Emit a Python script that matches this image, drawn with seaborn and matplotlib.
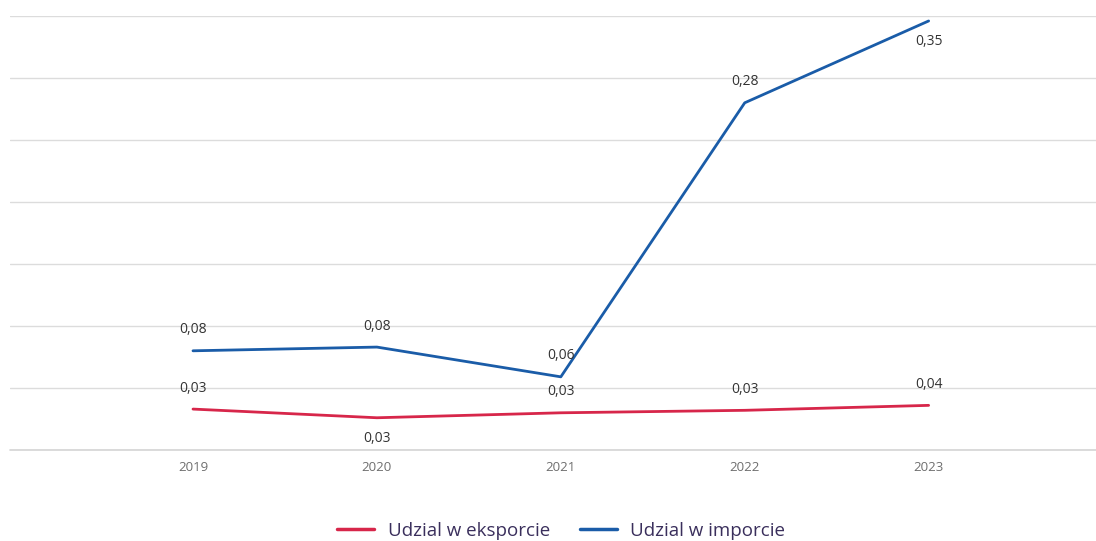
import matplotlib
matplotlib.use("Agg")
import matplotlib.pyplot as plt
import pandas as pd
import seaborn as sns

# -----------------------------
# Data
# -----------------------------
years = ["2019", "2020", "2021", "2022", "2023"]
export_share = [0.033, 0.026, 0.030, 0.032, 0.036]
import_share = [0.080, 0.083, 0.059, 0.280, 0.346]
series_names = ["Udzial w eksporcie", "Udzial w imporcie"]

# -----------------------------
# Style
# -----------------------------
sns.set_theme(style="white")
plt.rcParams["font.family"] = ["Open Sans", "DejaVu Sans"]

colors = {series_names[0]: "#d7264a", series_names[1]: "#1a5ca8"}

df = pd.DataFrame({
    "rok": years * 2,
    "wartosc": export_share + import_share,
    "seria": [series_names[0]] * len(years) + [series_names[1]] * len(years),
})
df["x"] = df["rok"].map({y: i for i, y in enumerate(years)})

fig = plt.figure(figsize=(10.96, 5.41), dpi=100)
ax = fig.add_axes([10 / 1096, 1 - 450 / 541, 1 - 10 / 1096, (450 - 16) / 541])

sns.lineplot(data=df, x="x", y="wartosc", hue="seria", palette=colors,
             linewidth=2.0, ax=ax, legend=False, clip_on=False, zorder=3)

ax.set_xlim(-0.995, 4.91)
ax.set_ylim(0, 0.35)
ax.set_yticks([i * 0.05 for i in range(8)])
ax.yaxis.grid(True, color="#dcdcdc", linewidth=1.0)
ax.axhline(0, color="#d4d4d4", linewidth=1.2, clip_on=False, zorder=1)
ax.set_yticklabels([])
ax.tick_params(axis="y", length=0)
ax.set_xticks(range(len(years)))
ax.set_xticklabels(years, color="#6e6e6e", fontsize=9.5)
ax.tick_params(axis="x", length=0, pad=8)
ax.set_xlabel("")
ax.set_ylabel("")
for side in ["top", "right", "left", "bottom"]:
    ax.spines[side].set_visible(False)

# data labels: +1 = above the point, -1 = below
export_place = [1, -1, 1, 1, 1]
import_place = [1, 1, 1, 1, -1]
for values, places in [(export_share, export_place), (import_share, import_place)]:
    for i, (v, p) in enumerate(zip(values, places)):
        label = f"{v:.2f}".replace(".", ",")
        ax.annotate(label, (i, v), xytext=(0, 21 * p), textcoords="offset pixels",
                    ha="center", va="center", fontsize=10, color="#333333", zorder=4)

handles = [plt.Line2D([], [], color=colors[n], linewidth=2.5) for n in series_names]
fig.legend(handles, series_names, loc="center", bbox_to_anchor=(0.512, 1 - 531 / 541),
           ncol=2, frameon=False, fontsize=13.5, handlelength=2.0, handletextpad=0.7,
           columnspacing=1.6, labelcolor="#3a2f5c")

fig.savefig("out.png", dpi=100)
